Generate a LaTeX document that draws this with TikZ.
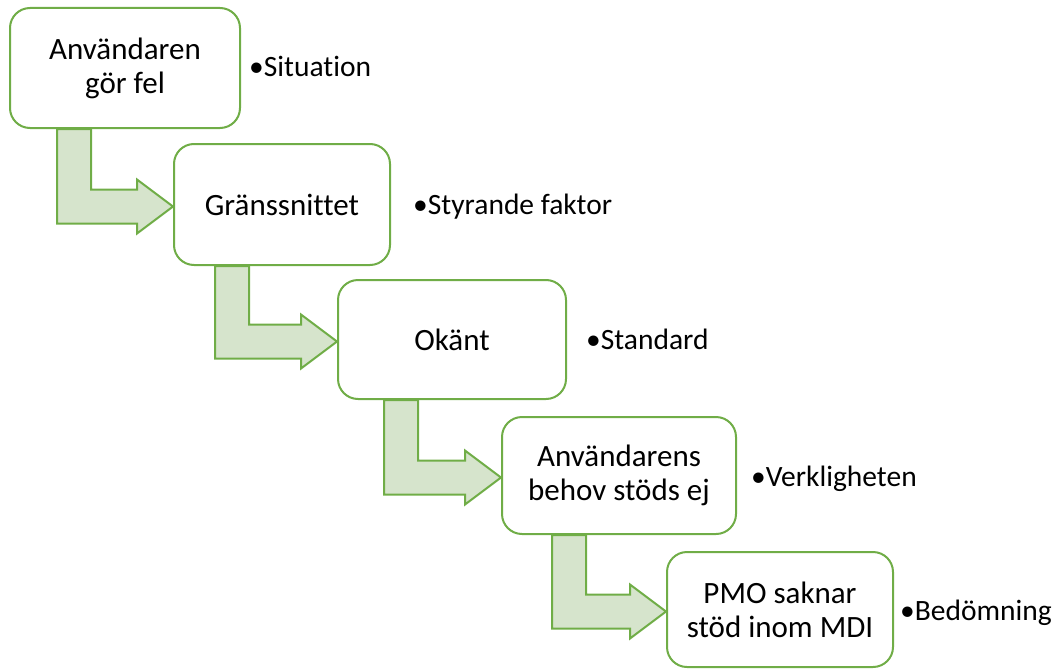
\documentclass[tikz,border=0pt]{standalone}
\usepackage{fontspec}
\setmainfont{Carlito}[Ligatures={NoCommon}]
\usetikzlibrary{calc}
\definecolor{leaf}{HTML}{70AD47}
\definecolor{leaffill}{HTML}{D6E4CC}
\tikzset{
  stepbox/.style={draw=leaf, line width=2pt, rounded corners=20pt, fill=white,
    align=center, inner sep=0pt, font=\fontsize{31}{34}\selectfont},
  note/.style={anchor=base west, inner sep=0pt, font=\fontsize{29.5}{34}\selectfont},
  flowarrow/.style={draw=leaf, line width=2pt, fill=leaffill, line join=miter}
}
% bent block arrow: shaft leaves the bottom of #1 (#3 pt from its left side),
% turns right and points at the left side of #2
\newcommand\bentarrow[3]{%
  \path let \p1=(#1.south west), \p2=($(#2.west)+(0pt,-2pt)$) in
    [flowarrow] (\x1+#3pt,\y1) -- (\x1+#3pt+34pt,\y1) -- (\x1+#3pt+34pt,\y2+17pt)
    -- (\x2-36pt,\y2+17pt) -- (\x2-36pt,\y2+27pt) -- (\x2,\y2)
    -- (\x2-36pt,\y2-27pt) -- (\x2-36pt,\y2-17pt) -- (\x1+#3pt,\y2-17pt) -- cycle;
}
\begin{document}
\begin{tikzpicture}[x=1pt,y=1pt]
  \useasboundingbox (0,0) rectangle (1054,-669);

  % process steps
  \node[stepbox, minimum width=230pt, minimum height=120pt] (b1) at (125,-68) {Användaren\\gör fel};
  \node[stepbox, minimum width=216pt, minimum height=121pt] (b2) at (282,-204.5) {Gränssnittet};
  \node[stepbox, minimum width=228pt, minimum height=119pt] (b3) at (452,-339.5) {Okänt};
  \node[stepbox, minimum width=234pt, minimum height=117pt] (b4) at (619,-475.5) {Användarens\\behov stöds ej};
  \node[stepbox, minimum width=226pt, minimum height=115pt] (b5) at (780,-609.5) {PMO saknar\\stöd inom MDI};

  % connecting arrows
  \bentarrow{b1}{b2}{48}
  \bentarrow{b2}{b3}{42}
  \bentarrow{b3}{b4}{47}
  \bentarrow{b4}{b5}{51}

  % side notes
  \node[note] (n1) at (249,-77) {•Situation};
  \node[note] (n2) at (413,-214) {•Styrande faktor};
  \node[note] (n3) at (586,-349) {•Standard};
  \node[note] (n4) at (751,-486) {•Verkligheten};
  \node[note] (n5) at (900,-620) {•Bedömning};
\end{tikzpicture}
\end{document}
